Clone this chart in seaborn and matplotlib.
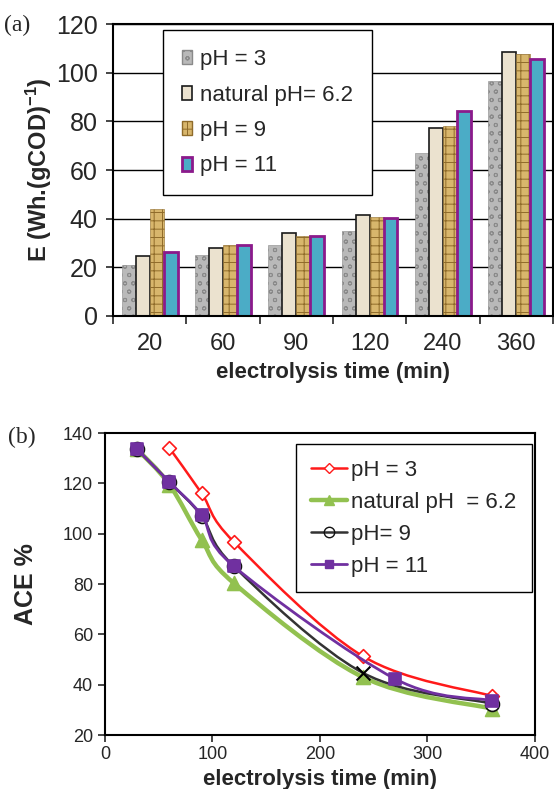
"""
Energy consumption (a) and ACE (b) vs electrolysis time at several pH values.
"""

# =============== IMPORTS ===============
import numpy as np
import pandas as pd
import matplotlib
matplotlib.use("Agg")
import matplotlib.pyplot as plt
import seaborn as sns
from matplotlib.path import Path
from matplotlib.patches import PathPatch, Patch
from matplotlib.lines import Line2D


# =============== DATA ===============
# panel (a) - bars
times_a = ["20", "60", "90", "120", "240", "360"]
labels_a = ["pH = 3", "natural pH= 6.2", "pH = 9", "pH = 11"]
e_ph3 = [21.0, 24.9, 29.0, 35.1, 66.8, 96.6]
e_nat = [24.8, 27.8, 34.0, 41.5, 77.4, 108.4]
e_ph9 = [44.0, 29.0, 32.9, 40.5, 78.1, 107.5]
e_ph11 = [26.4, 29.3, 32.7, 40.3, 84.4, 105.6]
yticks_a = [0, 20, 40, 60, 80, 100, 120]

# panel (b) - smoothed lines
labels_b = ["pH = 3", "natural pH  = 6.2", "pH= 9", "pH = 11"]
t_ph3 = [60, 90, 120, 240, 360]
ace_ph3 = [134.0, 116.0, 96.7, 51.3, 35.5]
t_nat = [30, 60, 90, 120, 240, 360]
ace_nat = [133.5, 119.5, 97.5, 80.3, 43.0, 30.5]
t_ph9 = [30, 60, 90, 120, 240, 360]
ace_ph9 = [133.5, 120.5, 107.0, 87.0, 44.7, 32.5]
t_ph11 = [30, 60, 90, 120, 270, 360]
ace_ph11 = [133.5, 120.5, 107.3, 87.0, 42.3, 33.7]
xticks_b = [0, 100, 200, 300, 400]
yticks_b = [20, 40, 60, 80, 100, 120, 140]


# =============== STYLE ===============
sns.set_style("ticks")
plt.rcParams["font.family"] = ["Liberation Sans", "DejaVu Sans"]
plt.rcParams["mathtext.default"] = "regular"
plt.rcParams["hatch.linewidth"] = 0.7

bar_styles = [
    dict(face="#b9b9b9", edge="#8a8a8a", lw=0.4, hatch="oo"),
    dict(face="#ebe2cf", edge="#1a1a1a", lw=1.2, hatch=None),
    dict(face="#d8b66c", edge="#8f6b2a", lw=0.4, hatch="++"),
    dict(face="#4bacc6", edge="#8b1a8b", lw=2.0, hatch=None),
]

fig = plt.figure(figsize=(5.54, 7.89), dpi=100)
ax1 = fig.add_axes([0.204, 0.5995, 0.794, 0.370])
ax2 = fig.add_axes([0.1895, 0.0684, 0.776, 0.3828])


# =============== (a) BAR CHART ===============
df_a = pd.DataFrame({
    "time": times_a * 4,
    "E": e_ph3 + e_nat + e_ph9 + e_ph11,
    "pH": [l for l in labels_a for _ in times_a],
})

sns.barplot(data=df_a, x="time", y="E", hue="pH", order=times_a,
            hue_order=labels_a, palette=[s["face"] for s in bar_styles],
            width=0.76, gap=0, saturation=1, errorbar=None, legend=False,
            ax=ax1, zorder=2)

for cont, st in zip(ax1.containers, bar_styles):
    for bar in cont:
        bar.set_edgecolor(st["edge"])
        bar.set_linewidth(st["lw"])
        if st["hatch"]:
            bar.set_hatch(st["hatch"])

ax1.set_xlim(-0.5, len(times_a) - 0.5)
ax1.set_ylim(0, 120)
ax1.set_yticks(yticks_a)
ax1.yaxis.grid(True, color="black", linewidth=1.0)
ax1.set_axisbelow(True)
ax1.set_xticks(np.arange(-0.5, len(times_a)), minor=True)
ax1.tick_params(axis="x", which="major", length=0, pad=12, labelsize=17)
ax1.tick_params(axis="x", which="minor", length=6, width=1.2, direction="out")
ax1.tick_params(axis="y", length=5, width=1.2, direction="out", labelsize=18, pad=6)
for sp in ax1.spines.values():
    sp.set_linewidth(1.5)
    sp.set_color("black")

ax1.set_xlabel("electrolysis time (min)", fontsize=16, fontweight="bold", labelpad=5)
ax1.set_ylabel("E (Wh.(gCOD)$^{-1}$)", fontsize=17, fontweight="bold", labelpad=1)

handles_a = [Patch(facecolor=s["face"], edgecolor=s["edge"], hatch=s["hatch"],
                   linewidth=max(s["lw"], 1.0)) for s in bar_styles]
leg1 = ax1.legend(handles_a, labels_a, loc="upper left",
                  bbox_to_anchor=(0.114, 0.979), borderaxespad=0, fontsize=16,
                  handlelength=0.45, handleheight=0.6, handletextpad=0.35,
                  labelspacing=0.65, borderpad=0.85, fancybox=False,
                  framealpha=1, edgecolor="black")
leg1.get_frame().set_linewidth(1.0)
leg1.set_zorder(5)

fig.text(0.008, 0.968, "(a)", fontsize=17, family="Liberation Serif",
         va="center", ha="left")


# =============== (b) SMOOTHED LINES ===============
def smooth_path(xs, ys):
    # Catmull-Rom style bezier through the data points (Excel "smoothed line")
    pts = np.column_stack([xs, ys]).astype(float)
    ext = np.vstack([pts[0], pts, pts[-1]])
    verts = [pts[0]]
    codes = [Path.MOVETO]
    for i in range(1, len(ext) - 2):
        p0, p1, p2, p3 = ext[i - 1], ext[i], ext[i + 1], ext[i + 2]
        verts += [p1 + (p2 - p0) / 6, p2 - (p3 - p1) / 6, p2]
        codes += [Path.CURVE4] * 3
    return Path(verts, codes)


line_styles = [
    dict(t=t_ph3, v=ace_ph3, color="#ff1a1a", lw=1.8, marker="D", ms=7,
         mfc="white", mec="#ff1a1a"),
    dict(t=t_nat, v=ace_nat, color="#92c150", lw=3.2, marker="^", ms=10,
         mfc="#92c150", mec="#92c150"),
    dict(t=t_ph9, v=ace_ph9, color="#333333", lw=1.8, marker="o", ms=10,
         mfc="none", mec="#111111"),
    dict(t=t_ph11, v=ace_ph11, color="#7030a0", lw=2.0, marker="s", ms=8,
         mfc="#7030a0", mec="#7030a0"),
]

df_b = pd.DataFrame({
    "t": t_ph3 + t_nat + t_ph9 + t_ph11,
    "ace": ace_ph3 + ace_nat + ace_ph9 + ace_ph11,
    "pH": sum([[l] * len(s["t"]) for l, s in zip(labels_b, line_styles)], []),
})

for i, (lab, st) in enumerate(zip(labels_b, line_styles)):
    patch = PathPatch(smooth_path(st["t"], st["v"]), facecolor="none",
                      edgecolor=st["color"], linewidth=st["lw"],
                      zorder=2 + i, capstyle="round")
    ax2.add_patch(patch)
    sub = df_b[df_b["pH"] == lab]
    if lab == "pH= 9":
        # the 240 min point is drawn as a cross in the original
        cross = sub["t"] == 240
        sns.scatterplot(data=sub[~cross], x="t", y="ace", marker="o",
                        s=st["ms"] ** 2, facecolor="white",
                        edgecolor=st["mec"], linewidth=1.2, ax=ax2,
                        zorder=2.5 + i, legend=False)
        sns.scatterplot(data=sub[cross], x="t", y="ace", marker="x",
                        s=st["ms"] ** 2, color="black", linewidth=1.5,
                        ax=ax2, zorder=2.5 + i, legend=False)
    else:
        sns.scatterplot(data=sub, x="t", y="ace", marker=st["marker"],
                        s=st["ms"] ** 2, facecolor=st["mfc"],
                        edgecolor=st["mec"], linewidth=1.2, ax=ax2,
                        zorder=2.5 + i, legend=False)

ax2.set_xlim(0, 400)
ax2.set_ylim(20, 140)
ax2.set_xticks(xticks_b)
ax2.set_yticks(yticks_b)
ax2.tick_params(axis="both", length=5, width=1.2, direction="out", labelsize=13)
ax2.tick_params(axis="x", pad=3)
for sp in ax2.spines.values():
    sp.set_linewidth(1.5)
    sp.set_color("black")
ax2.set_xlabel("electrolysis time (min)", fontsize=16, fontweight="bold", labelpad=4)
ax2.set_ylabel("ACE %", fontsize=18, fontweight="bold", labelpad=18)

handles_b = [Line2D([], [], color=s["color"], lw=s["lw"], marker=s["marker"],
                    markersize=s["ms"] * 0.75, markerfacecolor=s["mfc"],
                    markeredgecolor=s["mec"]) for s in line_styles]
leg2 = ax2.legend(handles_b, labels_b, loc="upper right",
                  bbox_to_anchor=(0.993, 0.9636), borderaxespad=0, fontsize=16,
                  handlelength=1.6, handletextpad=0.2, labelspacing=0.5,
                  borderpad=0.7, fancybox=False, framealpha=1,
                  edgecolor="black")
leg2.get_frame().set_linewidth(1.0)
leg2.set_zorder(10)

fig.text(0.014, 0.446, "(b)", fontsize=17, family="Liberation Serif",
         va="center", ha="left")

plt.savefig("out.png", dpi=100)
plt.close()
